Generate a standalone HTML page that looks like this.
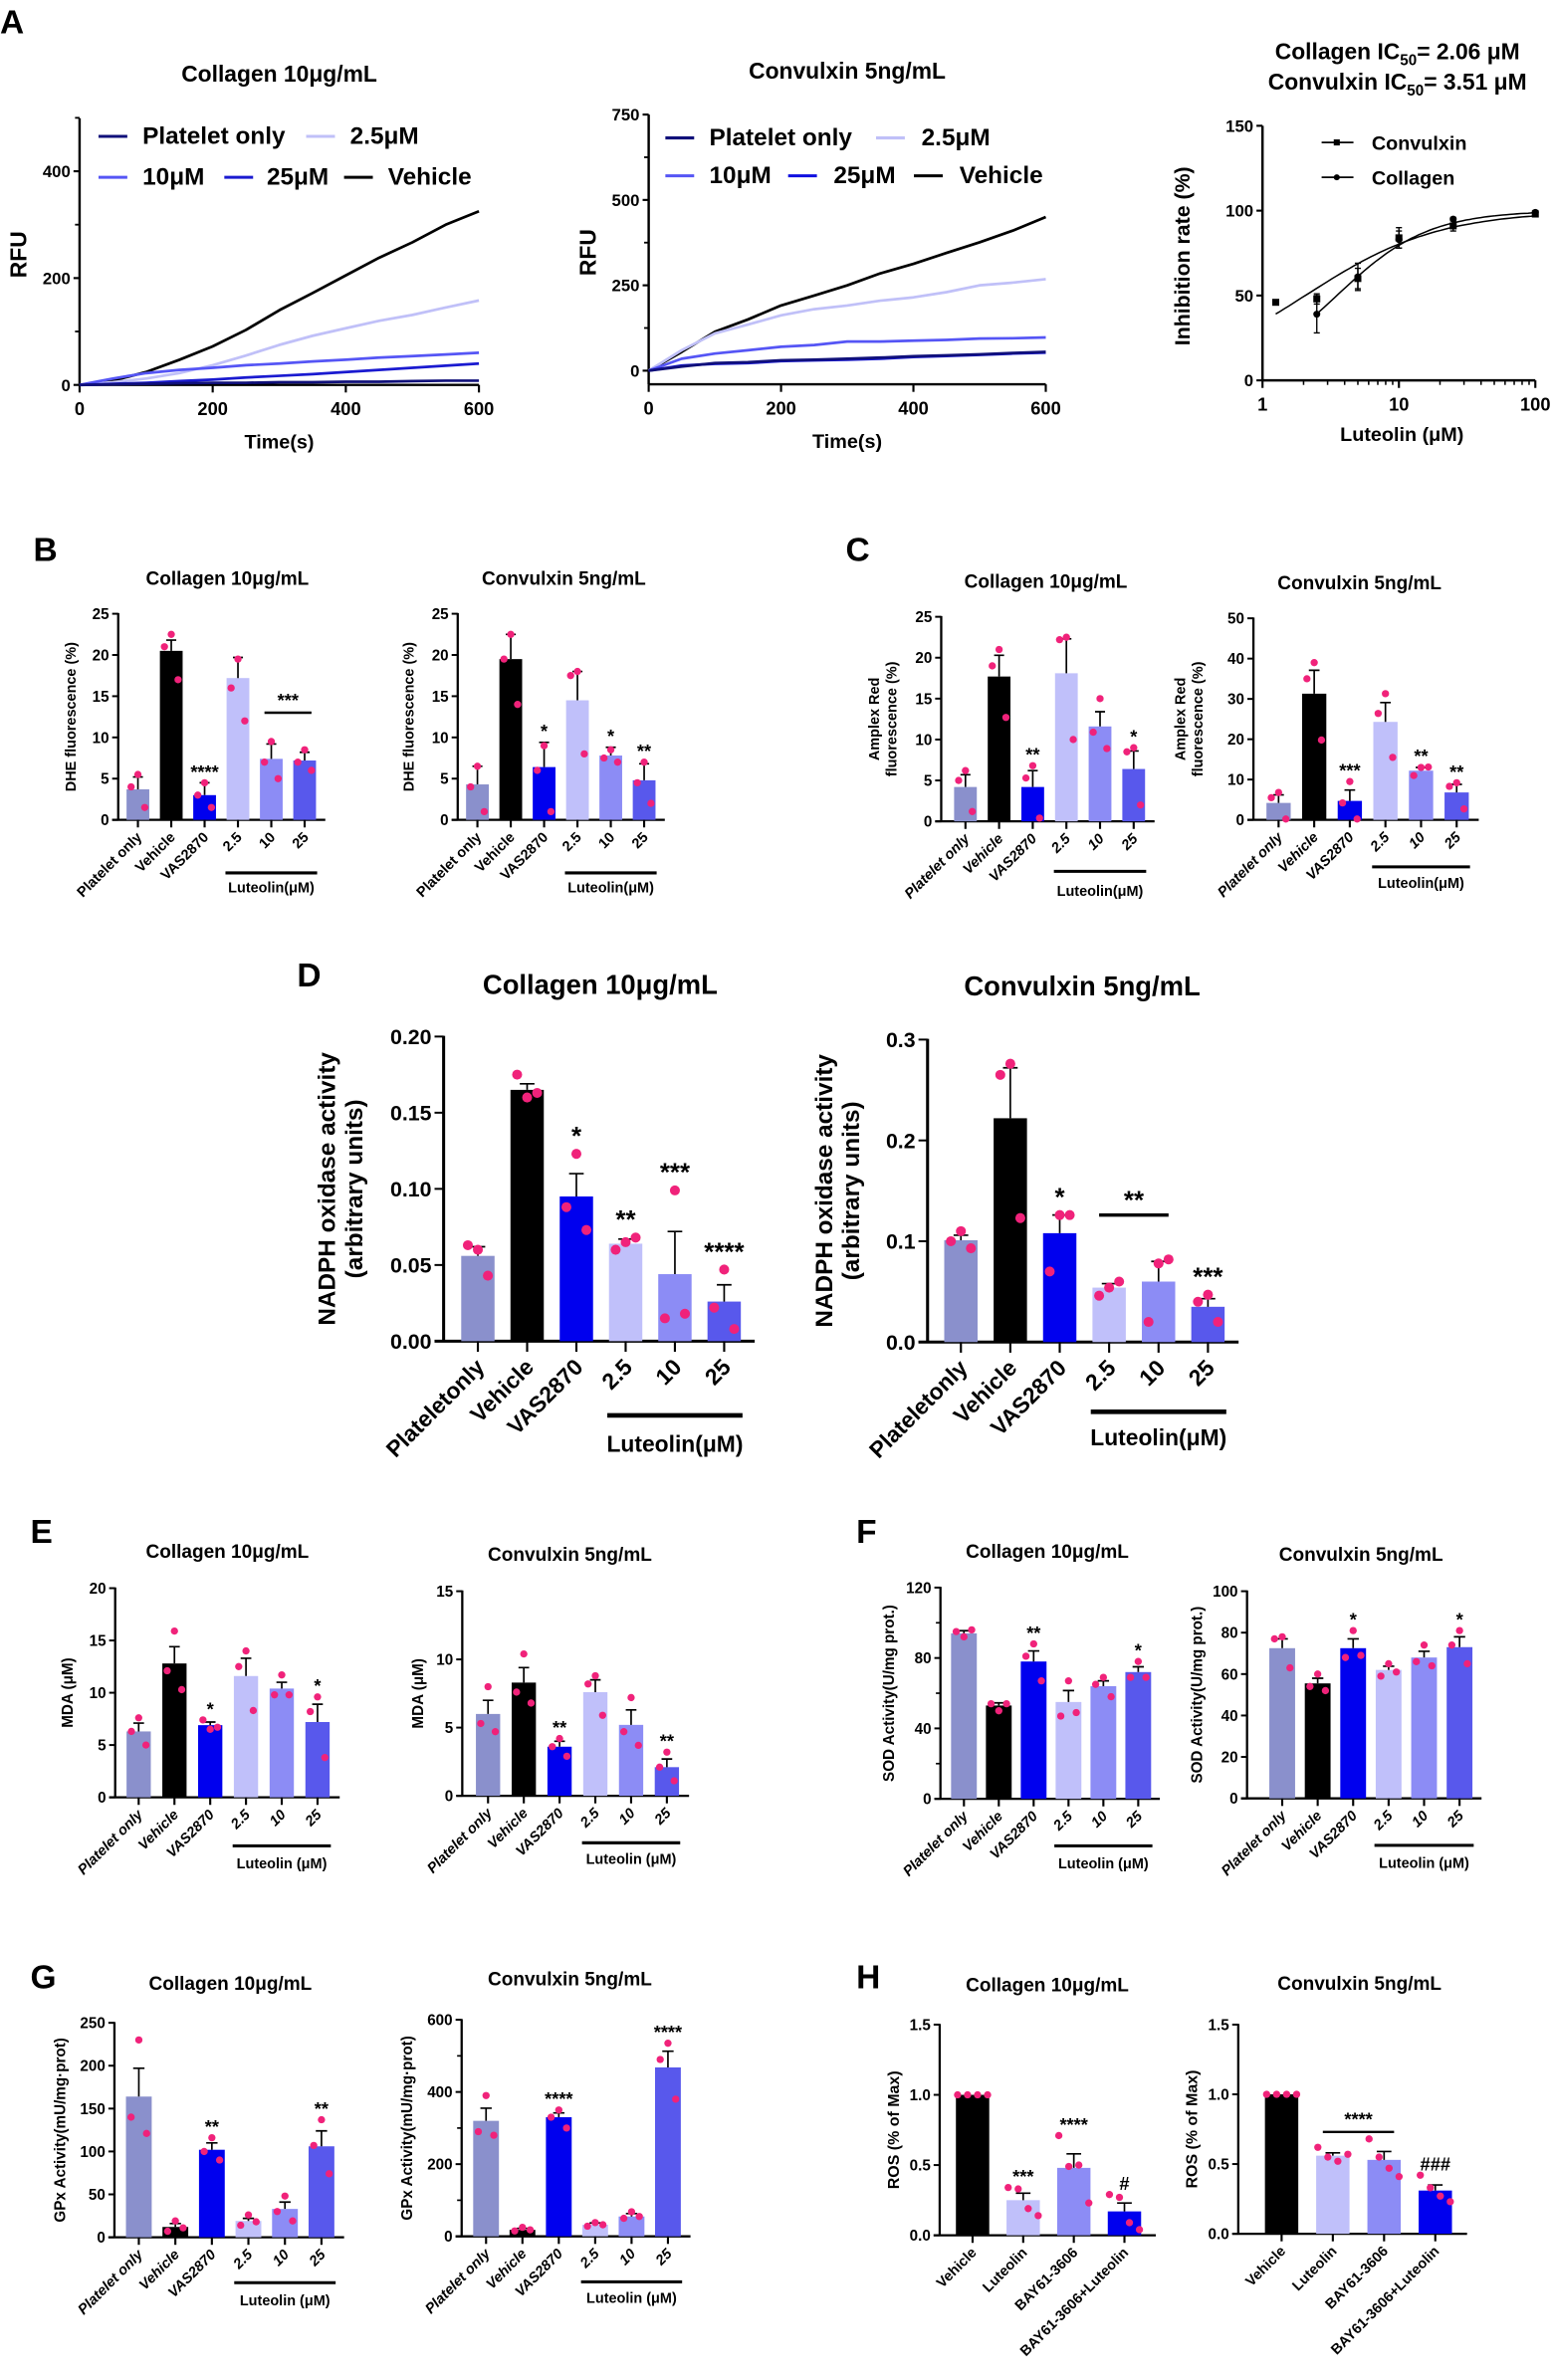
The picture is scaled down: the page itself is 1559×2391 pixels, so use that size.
<!DOCTYPE html>
<html><head><meta charset="utf-8"><style>
html,body{margin:0;padding:0;background:#fff}
svg{display:block}
text{font-family:"Liberation Sans",Arial,sans-serif;font-weight:bold;fill:#000}
</style></head><body>
<svg id="fig" xmlns="http://www.w3.org/2000/svg" width="1559" height="2391" viewBox="0 0 1024 1570.5" preserveAspectRatio="none"></svg>
<script>
// ---------- Panel A data ----------
const aTimes=[0,50,100,150,200,250,300,350,400,450,500,550,600];
const a1Vehicle=[0,8,24,47,72,103,140,172,205,238,267,300,325];
const a1Lut25a=[0,5,12,22,37,55,75,92,106,120,131,145,158];
const a1Lut10=[0,12,22,28,32,37,40,44,47,51,54,57,60];
const a1Lut25=[0,2,4,7,10,14,17,20,24,28,32,36,40];
const a1Platelet=[0,1,2,3,4,4,5,5,6,6,7,8,8];
const a2Vehicle=[0,55,114,150,191,220,250,285,313,345,376,410,450];
const a2Lut25a=[0,60,109,135,162,180,191,205,215,230,250,258,268];
const a2Lut10=[0,35,50,60,70,75,85,85,88,90,94,95,97];
const a2Lut25=[0,15,20,22,28,30,32,35,40,43,46,50,53];
const a2Platelet=[0,12,22,25,30,32,35,38,42,45,48,52,55];
const a1Ticks=[0,200,400];
const a2Ticks=[0,250,500,750];
const aXTicks=[0,200,400,600];
const icConc=[1.25,2.5,5,10,25,100];
const icConvulxin=[46,48,60,84,91,98];
const icConvulxinErr=[0,3,6,6,3,1];
const icCollagenConc=[2.5,5,10,25,100];
const icCollagen=[39,61,83,95,99];
const icCollagenErr=[11,8,5,1,1];
const icYTicks=[0,50,100,150];
const icXTicks=[1,10,100];
const icFitA=[2.06,0.89,1.25];
const icFitB=[3.51,1.3,2.5];

// ---------- bar data ----------
const cats6=["Platelet only","Vehicle","VAS2870","2.5","10","25"];
const catsD=["Plateletonly","Vehicle","VAS2870","2.5","10","25"];
const catsH=["Vehicle","Luteolin","BAY61-3606","BAY61-3606+Luteolin"];
const b1Values=[3.7,20.5,3.0,17.2,7.4,7.2];
const b1Errors=[1.5,1.3,1.5,2.5,1.8,1];
const b1Points=[[5.5,4,1.5],[22.5,21,17],[4.5,3,1.5],[19.5,16,12],[9.5,7,5],[8.5,7,6]];
const b2Values=[4.3,19.5,6.4,14.5,7.8,4.8];
const b2Errors=[2.2,3,3,3.5,1,2];
const b2Points=[[6.5,4,1],[22.5,19.5,14],[9,6,1],[18,17.5,8],[8.5,7.5,7],[7,4.5,2]];
const c1Values=[4.2,17.7,4.2,18.1,11.6,6.4];
const c1Errors=[1.5,2.6,2,4.2,1.8,2.2];
const c1Points=[[6.2,5,1.2],[21,19,12.7],[6.8,5.3,0.4],[22.5,22.2,10],[15,10.9,8.9],[9,8.5,2]];
const c2Values=[4.2,31.3,4.7,24.3,12.2,6.8];
const c2Errors=[2,5.8,2.7,4.8,0.8,2];
const c2Points=[[6.8,5.5,0.2],[39,35,19.8],[9.5,4.2,0.2],[31.3,26.4,15.5],[13,11,13.1],[9.2,8.3,2.7]];
const d1Values=[0.056,0.165,0.095,0.064,0.044,0.026];
const d1Errors=[0.006,0.004,0.015,0.003,0.028,0.011];
const d1Points=[[0.060,0.063,0.043],[0.160,0.175,0.163],[0.123,0.088,0.073],[0.065,0.060,0.068],[0.099,0.015,0.018],[0.047,0.022,0.008]];
const d2Values=[0.101,0.222,0.108,0.054,0.06,0.035];
const d2Errors=[0.005,0.05,0.018,0.004,0.02,0.008];
const d2Points=[[0.11,0.1,0.093],[0.276,0.265,0.123],[0.126,0.07,0.126],[0.054,0.046,0.06],[0.078,0.02,0.082],[0.047,0.04,0.02]];
const e1Values=[6.3,12.8,6.9,11.6,10.4,7.2];
const e1Errors=[0.8,1.6,0.3,1.7,0.6,1.7];
const e1Points=[[7.6,6.3,5],[15.9,12.1,10.3],[6.5,7.4,6.7],[14,12.5,8.3],[11.7,9.8,9.8],[9.6,8.2,3.8]];
const e2Values=[6.0,8.3,3.6,7.6,5.2,2.1];
const e2Errors=[1,1.1,0.4,0.9,1.1,0.6];
const e2Points=[[8,5.3,4.7],[10.4,7.6,6.8],[4.2,3.6,2.9],[8.8,8.2,5.9],[7.2,4.7,3.7],[3.2,2.1,1.1]];
const f1Values=[94,53,78,55,64,72];
const f1Errors=[1.5,1.5,6,6.5,3,3];
const f1Points=[[92,95,96],[50,54,54],[88,81,67],[67,47,49],[69,65,58],[78,69,69]];
const f2Values=[72.5,55.5,72.5,62,68,73];
const f2Errors=[4.5,2.5,4.5,1.8,3,5];
const f2Points=[[78,77,63],[60,54,52],[81,68,69],[65,59,61],[74,66,64],[81,74,65]];
const g1Values=[164,12,102,19,33,106];
const g1Errors=[33,4,8,3,8,18];
const g1Points=[[230,140,121],[19,7,11],[116,100,90],[26,14,18],[48,30,19],[137,107,74]];
const g2Values=[320,18,330,32,55,468];
const g2Errors=[35,4,12,5,8,45];
const g2Points=[[390,290,280],[25,15,18],[350,330,300],[38,28,32],[68,50,55],[535,490,380]];
const h1Values=[1,0.25,0.48,0.17];
const h1Errors=[0,0.05,0.1,0.06];
const h1Points=[[1,1,1,1],[0.34,0.33,0.19,0.14],[0.71,0.49,0.5,0.23],[0.29,0.27,0.09,0.04]];
const h2Values=[1,0.56,0.53,0.31];
const h2Errors=[0,0.02,0.06,0.04];
const h2Points=[[1,1,1,1],[0.62,0.55,0.52,0.57],[0.68,0.55,0.47,0.41],[0.42,0.33,0.27,0.23]];

const svg=document.getElementById('fig');
const NS='http://www.w3.org/2000/svg';
function mk(tag,attrs,parent){const e=document.createElementNS(NS,tag);for(const k in attrs)e.setAttribute(k,attrs[k]);(parent||svg).appendChild(e);return e;}
function txt(s,x,y,size,opts,parent){opts=opts||{};const t=mk('text',{x:x,y:y,'font-size':size,'text-anchor':opts.anchor||'start'},parent);
 if(opts.rot!==undefined)t.setAttribute('transform','rotate('+opts.rot+' '+x+' '+y+')');
 if(opts.italic)t.setAttribute('font-style','italic');
 if(opts.stretch)t.setAttribute('textLength',opts.stretch);
 t.textContent=s;return t;}

const COL6=['#8a90cc','#000000','#0000ee','#c0c0fa','#8c8cf5','#5858ec'];
const COLH=['#000000','#c0c0fa','#8c8cf5','#0000ee'];
const PINK='#f0227a';

// ---------- panel letters ----------
[['A',0,22],['B',22,370],['C',558,370],['D',196,651],['E',20,1018],['F',565,1018],['G',20,1312],['H',565,1312]].forEach(l=>{
 const t=txt(l[0],l[1],l[2],22,{});
 
 
});

// ---------- line charts ----------
function lineChart(cfg){
 const g=mk('g',{});
 
 
 const X=t=>cfg.x0+(t/600)*(cfg.x1-cfg.x0);
 const Y=v=>cfg.y0-(v/cfg.unit)*cfg.unitPx;
 mk('line',{x1:cfg.x0,y1:cfg.yTop,x2:cfg.x0,y2:cfg.xAxisY,stroke:'#000','stroke-width':1.6},g);
 mk('line',{x1:cfg.x0,y1:cfg.xAxisY,x2:cfg.x1,y2:cfg.xAxisY,stroke:'#000','stroke-width':1.6},g);
 cfg.yTicks.forEach(v=>{mk('line',{x1:cfg.x0-4,y1:Y(v),x2:cfg.x0,y2:Y(v),stroke:'#000','stroke-width':1.4},g);
  const t=txt(String(v),cfg.x0-6,Y(v)+4,11,{anchor:'end'},g);});
 cfg.minor.forEach(v=>mk('line',{x1:cfg.x0-3,y1:Y(v),x2:cfg.x0,y2:Y(v),stroke:'#000','stroke-width':1.2},g));
 aXTicks.forEach(v=>{mk('line',{x1:X(v),y1:cfg.xAxisY,x2:X(v),y2:cfg.xAxisY+5,stroke:'#000','stroke-width':1.4},g);
  const t=txt(String(v),X(v),cfg.xAxisY+20,12,{anchor:'middle'},g);});
 const yl=txt('RFU',cfg.x0-35,(cfg.yTop+cfg.xAxisY)/2+2,15,{anchor:'middle',rot:-90},g);
 
 const xl=txt('Time(s)',(cfg.x0+cfg.x1)/2,cfg.xAxisY+42,13,{anchor:'middle'},g);
 
 const ti=txt(cfg.title,(cfg.x0+cfg.x1)/2,cfg.titleY,15,{anchor:'middle'},g);
 
 cfg.series.forEach(s=>{
  const d=s.vals.map((v,i)=>(i?'L':'M')+X(aTimes[i]).toFixed(1)+' '+Y(v).toFixed(1)).join(' ');
  const p=mk('path',{d:d,fill:'none',stroke:s.color,'stroke-width':1.8,'stroke-linejoin':'round'},g);
  
 });
 cfg.legend.forEach(l=>{
  const lg=mk('g',{},g);
  
  
  mk('line',{x1:l[1],y1:l[3]-5,x2:l[1]+19,y2:l[3]-5,stroke:l[4],'stroke-width':2},lg);
  txt(l[0],l[2],l[3],16,{},lg);
 });
}
lineChart({name:'chart-a1-collagen',x0:52.5,x1:316,y0:254,xAxisY:254,yTop:78,unit:400,unitPx:141,yTicks:a1Ticks,minor:[100,300,500],title:'Collagen 10μg/mL',titleY:54,
 series:[{key:'vehicle',vals:a1Vehicle,color:'#000'},{key:'2-5um',vals:a1Lut25a,color:'#c0c0f8'},{key:'10um',vals:a1Lut10,color:'#5555f5'},{key:'25um',vals:a1Lut25,color:'#1a1ad0'},{key:'platelet-only',vals:a1Platelet,color:'#10107a'}],
 legend:[['Platelet only',65,94,95,'#10107a'],['2.5μM',202,231,95,'#c0c0f8'],['10μM',65,94,122,'#5555f5'],['25μM',148,176,122,'#1a1ad0'],['Vehicle',227,256,122,'#000']]});
lineChart({name:'chart-a2-convulxin',x0:428,x1:690,y0:244.6,xAxisY:253.6,yTop:75.6,unit:750,unitPx:169,yTicks:a2Ticks,minor:[125,375,625],title:'Convulxin  5ng/mL',titleY:52,
 series:[{key:'vehicle',vals:a2Vehicle,color:'#000'},{key:'2-5um',vals:a2Lut25a,color:'#c0c0f8'},{key:'10um',vals:a2Lut10,color:'#5555f5'},{key:'25um',vals:a2Lut25,color:'#1a1ad0'},{key:'platelet-only',vals:a2Platelet,color:'#10107a'}],
 legend:[['Platelet only',439,468,96,'#10107a'],['2.5μM',578,608,96,'#c0c0f8'],['10μM',439,468,121,'#5555f5'],['25μM',520,550,121,'#1010e0'],['Vehicle',603,633,121,'#000']]});

// ---------- IC50 chart ----------
(function(){
 const g=mk('g',{});
 
 
 const x0=833,x1=1013,y0=251,yT=83;
 const X=c=>x0+Math.log10(c)/2*(x1-x0);
 const Y=v=>y0-v/150*(y0-yT);
 mk('line',{x1:x0,y1:yT,x2:x0,y2:y0,stroke:'#000','stroke-width':1.6},g);
 mk('line',{x1:x0,y1:y0,x2:x1,y2:y0,stroke:'#000','stroke-width':1.6},g);
 icYTicks.forEach(v=>{mk('line',{x1:x0-4,y1:Y(v),x2:x0,y2:Y(v),stroke:'#000','stroke-width':1.4},g);txt(String(v),x0-6,Y(v)+4,11,{anchor:'end'},g);});
 icXTicks.forEach(v=>{mk('line',{x1:X(v),y1:y0,x2:X(v),y2:y0+5,stroke:'#000','stroke-width':1.4},g);txt(String(v),X(v),y0+20,12,{anchor:'middle'},g);});
 [2,3,4,5,6,7,8,9,20,30,40,50,60,70,80,90].forEach(v=>mk('line',{x1:X(v),y1:y0,x2:X(v),y2:y0+3,stroke:'#000','stroke-width':1},g));
 txt('Inhibition rate (%)',x0-48,(yT+y0)/2+2,14,{anchor:'middle',rot:-90},g);
 txt('Luteolin (μM)',(x0+x1)/2+2,y0+40,13,{anchor:'middle'},g);
 const t1=txt('',922,39,15,{anchor:'middle'},g);t1.innerHTML='Collagen IC<tspan font-size="10" dy="4">50</tspan><tspan dy="-4">= 2.06 μM</tspan>';
 const t2=txt('',922,59,15,{anchor:'middle'},g);t2.innerHTML='Convulxin IC<tspan font-size="10" dy="4">50</tspan><tspan dy="-4">= 3.51 μM</tspan>';
 [icFitA,icFitB].forEach((f,k)=>{let d='';for(let i=0;i<=60;i++){const lc=Math.log10(f[2])+(2-Math.log10(f[2]))*i/60;const c=Math.pow(10,lc);const v=100/(1+Math.pow(f[0]/c,f[1]));d+=(i?'L':'M')+X(c).toFixed(1)+' '+Y(v).toFixed(1);}
  const p=mk('path',{d:d,fill:'none',stroke:'#000','stroke-width':1},g);});
 icConc.forEach((c,i)=>{const v=icConvulxin[i],e=icConvulxinErr[i];
  if(e)mk('path',{d:`M${X(c)} ${Y(v-e)}V${Y(v+e)}M${X(c)-2} ${Y(v-e)}h4M${X(c)-2} ${Y(v+e)}h4`,stroke:'#000','stroke-width':0.9,fill:'none'},g);
  const r=mk('rect',{x:X(c)-2.3,y:Y(v)-2.3,width:4.6,height:4.6,fill:'#000'},g);});
 icCollagenConc.forEach((c,i)=>{const v=icCollagen[i],e=icCollagenErr[i];
  mk('path',{d:`M${X(c)} ${Y(v-e)}V${Y(v+e)}M${X(c)-2} ${Y(v-e)}h4M${X(c)-2} ${Y(v+e)}h4`,stroke:'#000','stroke-width':0.9,fill:'none'},g);
  const r=mk('circle',{cx:X(c),cy:Y(v),r:2.3,fill:'#000'},g);});
 const l1=mk('g',{},g);
 mk('line',{x1:872,y1:94,x2:893,y2:94,stroke:'#000','stroke-width':1.2},l1);mk('rect',{x:880,y:92,width:4,height:4,fill:'#000'},l1);txt('Convulxin',905,99,13,{},l1);
 const l2=mk('g',{},g);
 mk('line',{x1:872,y1:117,x2:893,y2:117,stroke:'#000','stroke-width':1.2},l2);mk('circle',{cx:882,cy:117,r:2,fill:'#000'},l2);txt('Collagen',905,122,13,{},l2);
})();

// ---------- bar charts ----------
function barChart(c){
 const g=mk('g',{});
 
 
 const n=c.vals.length;
 const Y=v=>c.y0-v/c.max*(c.y0-c.yT);
 const X=i=>c.first+i*c.sp;
 const fs=c.fs||10;
 mk('line',{x1:c.ax,y1:c.yT-0.5,x2:c.ax,y2:c.y0,stroke:'#000','stroke-width':c.lw||1.5},g);
 mk('line',{x1:c.ax-(c.tick||4),y1:c.y0,x2:X(n-1)+c.sp*0.62,y2:c.y0,stroke:'#000','stroke-width':c.lw||1.5},g);
 c.ticks.forEach(v=>{mk('line',{x1:c.ax-(c.tick||4),y1:Y(v),x2:c.ax,y2:Y(v),stroke:'#000','stroke-width':1.3},g);
  const t=txt(v.toFixed(c.dec||0),c.ax-(c.tick||4)-2,Y(v)+fs*0.36,fs,{anchor:'end'},g);});
 (c.minor||[]).forEach(v=>mk('line',{x1:c.ax-3,y1:Y(v),x2:c.ax,y2:Y(v),stroke:'#000','stroke-width':1.1},g));
 c.ylab.forEach((s,k)=>{const x=c.ylx+k*(c.ylfs+2);const t=txt(s,x,(c.yT+c.y0)/2,c.ylfs,{anchor:'middle',rot:-90},g);});
 const tt=txt(c.title,c.tx,c.ty,c.tfs||12.5,{anchor:'middle'},g);
 c.vals.forEach((v,i)=>{
  const cx=X(i),top=Y(v);
  const b=mk('rect',{x:cx-c.bw/2,y:top,width:c.bw,height:c.y0-top,fill:c.colors[i]},g);
  
  
  const e=c.errs[i];
  if(e>0){mk('path',{d:`M${cx} ${top}V${Y(v+e)}M${cx-c.bw*0.22} ${Y(v+e)}h${c.bw*0.44}`,stroke:'#000','stroke-width':1.1,fill:'none'},g);}
  mk('line',{x1:cx,y1:c.y0,x2:cx,y2:c.y0+(c.xt||5),stroke:'#000','stroke-width':1.4},g);
  const pts=c.pts[i];const m=pts.length;
  pts.forEach((p,j)=>{const off=m===3?[0,-0.7,0.7][j]*0:0;const dx=(m===4?(j-1.5)*c.bw*0.3:[0,-0.3,0.3][j]*c.bw*(j===0?0:1));
   const dot=mk('circle',{cx:cx+(m===4?dx:(j===0?-0.0:0)+((j%2?-1:1)*(j?c.bw*0.3:0))),cy:Y(p),r:c.pr||2.4,fill:PINK},g);
   });
  const lab=txt(c.cats[i],cx+(c.lfs||9)*0.35,c.y0+(c.ly||12),c.lfs||9.5,{anchor:'end',rot:-45,italic:c.italic},g);
  
  const s=c.stars[i];
  if(s){const hi=Math.max(v+e,...pts);const st=txt(s,cx,Y(hi)-(c.sg||3),c.sfs||12,{anchor:'middle'},g);}
 });
 if(c.starLine){const [i,j,s,val]=c.starLine;const y=Y(val);
  mk('line',{x1:X(i)-c.bw*0.3,y1:y,x2:X(j)+c.bw*0.3,y2:y,stroke:'#000','stroke-width':c.lw?2.2:1.6},g);
  const st=txt(s,(X(i)+X(j))/2,y-4,c.sfs||12,{anchor:'middle'},g);}
 if(c.lut){const y=c.y0+c.lut[0];
  const ln=mk('line',{x1:X(3)-c.bw*0.55,y1:y,x2:X(5)+c.bw*0.55,y2:y,stroke:'#000','stroke-width':c.lw?3:2},g);
  
  const lt=txt(c.lut[2],X(4)+(c.lut[3]||0),c.y0+c.lut[1],c.lutfs||9.5,{anchor:'middle'},g);}
}
const T25=[0,5,10,15,20,25];
barChart({name:'chart-b1-dhe-collagen',ax:78,yT:405,y0:541,max:25,ticks:T25,first:91,sp:22,bw:15,vals:b1Values,errs:b1Errors,pts:b1Points,colors:COL6,cats:cats6,stars:['','','****','','',''],starLine:[4,5,'***',13],ylab:['DHE fluorescence (%)'],ylx:50,ylfs:9.5,title:'Collagen 10μg/mL',tx:150,ty:386,lut:[35,48,'Luteolin(μM)']});
barChart({name:'chart-b2-dhe-convulxin',ax:302,yT:405,y0:541,max:25,ticks:T25,first:315,sp:22,bw:15,vals:b2Values,errs:b2Errors,pts:b2Points,colors:COL6,cats:cats6,stars:['','','*','','*','**'],ylab:['DHE fluorescence (%)'],ylx:273,ylfs:9.5,title:'Convulxin  5ng/mL',tx:372,ty:386,lut:[35,48,'Luteolin(μM)']});
barChart({name:'chart-c1-amplex-collagen',ax:621,yT:407,y0:542,max:25,ticks:T25,first:637,sp:22.2,bw:15,vals:c1Values,errs:c1Errors,pts:c1Points,colors:COL6,cats:cats6,stars:['','','**','','','*'],ylab:['Amplex Red','fluorescence (%)'],ylx:580,ylfs:9.5,title:'Collagen 10μg/mL',tx:690,ty:388,italic:true,lut:[33,49,'Luteolin(μM)']});
barChart({name:'chart-c2-amplex-convulxin',ax:827,yT:408,y0:541,max:50,ticks:[0,10,20,30,40,50],first:843.6,sp:23.5,bw:16,vals:c2Values,errs:c2Errors,pts:c2Points,colors:COL6,cats:cats6,stars:['','','***','','**','**'],ylab:['Amplex Red','fluorescence (%)'],ylx:782,ylfs:9.5,title:'Convulxin  5ng/mL',tx:897,ty:389,italic:true,lut:[31,45,'Luteolin(μM)']});
barChart({name:'chart-d1-nadph-collagen',ax:292.7,yT:684,y0:885,max:0.2,ticks:[0,0.05,0.10,0.15,0.20],dec:2,first:315.3,sp:32.5,bw:22,fs:14,tick:6,lw:2,xt:7,pr:3.3,vals:d1Values,errs:d1Errors,pts:d1Points,colors:COL6,cats:catsD,stars:['','','*','**','***','****'],sfs:17,sg:6,ylab:['NADPH oxidase activity','(arbitrary units)'],ylx:221,ylfs:16,title:'Collagen 10μg/mL',tx:396,ty:656,tfs:18,lfs:15,ly:18,lut:[49,73,'Luteolin(μM)',0],lutfs:15});
barChart({name:'chart-d2-nadph-convulxin',ax:612,yT:686,y0:885.6,max:0.3,ticks:[0,0.1,0.2,0.3],dec:1,first:634,sp:32.6,bw:22,fs:14,tick:6,lw:2,xt:7,pr:3.3,vals:d2Values,errs:d2Errors,pts:d2Points,colors:COL6,cats:catsD,stars:['','','*','','','***'],sfs:17,sg:6,starLine:[3,4,'**',0.126],ylab:['NADPH oxidase activity','(arbitrary units)'],ylx:549,ylfs:16,title:'Convulxin  5ng/mL',tx:714,ty:657,tfs:18,lfs:15,ly:18,lut:[46,68,'Luteolin(μM)',0],lutfs:15});
barChart({name:'chart-e1-mda-collagen',ax:76,yT:1048,y0:1186,max:20,ticks:[0,5,10,15,20],first:91.5,sp:23.6,bw:16,vals:e1Values,errs:e1Errors,pts:e1Points,colors:COL6,cats:cats6,stars:['','','*','','','*'],ylab:['MDA (μM)'],ylx:48,ylfs:10,title:'Collagen 10μg/mL',tx:150,ty:1028,italic:true,lut:[32,47,'Luteolin (μM)']});
barChart({name:'chart-e2-mda-convulxin',ax:305,yT:1050,y0:1185,max:15,ticks:[0,5,10,15],first:322,sp:23.6,bw:16,vals:e2Values,errs:e2Errors,pts:e2Points,colors:COL6,cats:cats6,stars:['','','**','','','**'],ylab:['MDA (μM)'],ylx:279,ylfs:10,title:'Convulxin  5ng/mL',tx:376,ty:1030,italic:true,lut:[31,45,'Luteolin (μM)']});
barChart({name:'chart-f1-sod-collagen',ax:620.5,yT:1047.6,y0:1187,max:120,ticks:[0,40,80,120],minor:[20,60,100],first:636,sp:23,bw:17,vals:f1Values,errs:f1Errors,pts:f1Points,colors:COL6,cats:cats6,stars:['','','**','','','*'],ylab:['SOD Activity(U/mg prot.)'],ylx:590,ylfs:10,title:'Collagen 10μg/mL',tx:691,ty:1028,italic:true,lut:[31,46,'Luteolin (μM)']});
barChart({name:'chart-f2-sod-convulxin',ax:822.8,yT:1050,y0:1186.7,max:100,ticks:[0,20,40,60,80,100],first:846,sp:23.4,bw:17,vals:f2Values,errs:f2Errors,pts:f2Points,colors:COL6,cats:cats6,stars:['','','*','','','*'],ylab:['SOD Activity(U/mg prot.)'],ylx:793,ylfs:10,title:'Convulxin  5ng/mL',tx:898,ty:1030,italic:true,lut:[31,46,'Luteolin (μM)']});
barChart({name:'chart-g1-gpx-collagen',ax:75.5,yT:1334.8,y0:1476.3,max:250,ticks:[0,50,100,150,200,250],first:91.6,sp:24.1,bw:17,vals:g1Values,errs:g1Errors,pts:g1Points,colors:COL6,cats:cats6,stars:['','','**','','','**'],ylab:['GPx Activity(mU/mg·prot)'],ylx:43,ylfs:10,title:'Collagen 10μg/mL',tx:152,ty:1313,italic:true,lut:[30,45,'Luteolin (μM)']});
barChart({name:'chart-g2-gpx-convulxin',ax:304.6,yT:1332.8,y0:1475.7,max:600,ticks:[0,200,400,600],minor:[100,300,500],first:320.7,sp:24,bw:17,vals:g2Values,errs:g2Errors,pts:g2Points,colors:COL6,cats:cats6,stars:['','','****','','','****'],ylab:['GPx Activity(mU/mg·prot)'],ylx:272,ylfs:10,title:'Convulxin  5ng/mL',tx:376,ty:1310,italic:true,lut:[30,44,'Luteolin (μM)']});
barChart({name:'chart-h1-ros-collagen',ax:620,yT:1336,y0:1475,max:1.5,ticks:[0,0.5,1.0,1.5],dec:1,first:641.7,sp:33.4,bw:22,vals:h1Values,errs:h1Errors,pts:h1Points,colors:COLH,cats:catsH,stars:['','***','****','#'],ylab:['ROS (% of Max)'],ylx:593,ylfs:10.5,title:'Collagen 10μg/mL',tx:691,ty:1314,ly:12});
barChart({name:'chart-h2-ros-convulxin',ax:817,yT:1336,y0:1474,max:1.5,ticks:[0,0.5,1.0,1.5],dec:1,first:845.6,sp:33.8,bw:22,vals:h2Values,errs:h2Errors,pts:h2Points,colors:COLH,cats:catsH,stars:['','','','###'],starLine:[1,2,'****',0.73],ylab:['ROS (% of Max)'],ylx:790,ylfs:10.5,title:'Convulxin  5ng/mL',tx:897,ty:1313,ly:12});
</script>
</body></html>
